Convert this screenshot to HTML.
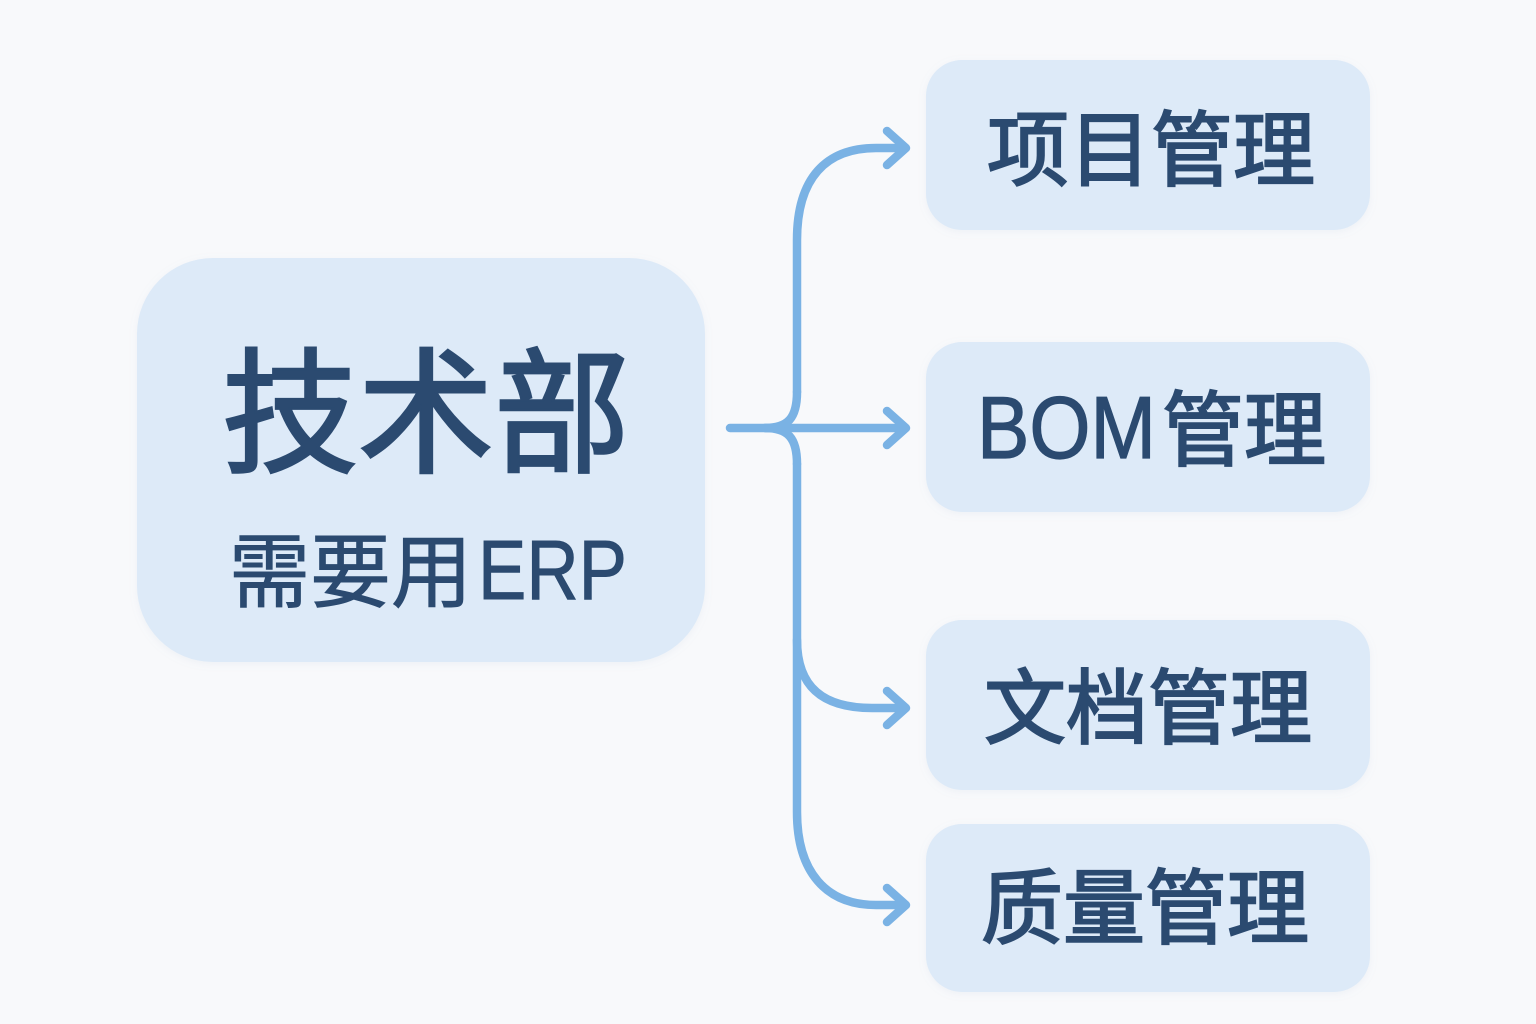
<!DOCTYPE html>
<html>
<head>
<meta charset="utf-8">
<style>
  html,body{margin:0;padding:0;background:#f8f9fb;}
  svg{display:block;}
  .t{font-family:"Liberation Sans","Noto Sans CJK SC",sans-serif;fill:#2b4a70;stroke:#2b4a70;stroke-linejoin:miter;font-weight:400;}
</style>
</head>
<body>
<svg width="1536" height="1024" viewBox="0 0 1536 1024" xmlns="http://www.w3.org/2000/svg">
  <defs>
    <filter id="sh" x="-10%" y="-10%" width="120%" height="130%">
      <feDropShadow dx="0" dy="2" stdDeviation="4" flood-color="#8aa4c4" flood-opacity="0.10"/>
    </filter>
  </defs>
  <rect x="0" y="0" width="1536" height="1024" fill="#f8f9fb"/>

  <!-- Left main box -->
  <rect x="137" y="258" width="568" height="404" rx="76" ry="76" fill="#ddeaf8" filter="url(#sh)"/>
  <text class="t" x="426" y="462" font-size="136" stroke-width="2.6" text-anchor="middle">技术部</text>
  <text class="t" x="229" y="601" font-size="81" stroke-width="0.9">需要用</text>
  <text class="t" x="478" y="599" font-size="84" stroke-width="0.9" textLength="149" lengthAdjust="spacingAndGlyphs">ERP</text>

  <!-- Right boxes -->
  <rect x="926" y="60" width="444" height="170" rx="36" ry="36" fill="#ddeaf8" filter="url(#sh)"/>
  <rect x="926" y="342" width="444" height="170" rx="36" ry="36" fill="#ddeaf8" filter="url(#sh)"/>
  <rect x="926" y="620" width="444" height="170" rx="36" ry="36" fill="#ddeaf8" filter="url(#sh)"/>
  <rect x="926" y="824" width="444" height="168" rx="36" ry="36" fill="#ddeaf8" filter="url(#sh)"/>

  <text class="t" x="1151" y="179" font-size="82" stroke-width="2" text-anchor="middle">项目管理</text>
  <text class="t" x="977" y="458" font-size="88" stroke-width="1.2" textLength="179" lengthAdjust="spacingAndGlyphs">BOM</text>
  <text class="t" x="1162" y="459" font-size="82" stroke-width="2">管理</text>
  <text class="t" x="1148" y="737" font-size="82" stroke-width="2" text-anchor="middle">文档管理</text>
  <text class="t" x="1145" y="937" font-size="82" stroke-width="2" text-anchor="middle">质量管理</text>

  <!-- Connectors -->
  <g fill="none" stroke="#7ab2e4" stroke-width="8.5" stroke-linecap="round" stroke-linejoin="round">
    <path d="M730,428 L905,428"/>
    <path d="M765,428 C788,428 797,418 797,392"/>
    <path d="M765,428 C788,428 797,438 797,464"/>
    <path d="M797,392 L797,240 C797,178 826,148 876,148 L905,148"/>
    <path d="M797,464 L797,812 C797,872 826,905 876,905 L905,905"/>
    <path d="M797,640 C797,688 824,708 872,708 L905,708"/>
    <path d="M887,131 L906,148 L887,165"/>
    <path d="M887,411 L906,428 L887,445"/>
    <path d="M887,691 L906,708 L887,725"/>
    <path d="M887,888 L906,905 L887,922"/>
  </g>
</svg>
</body>
</html>
